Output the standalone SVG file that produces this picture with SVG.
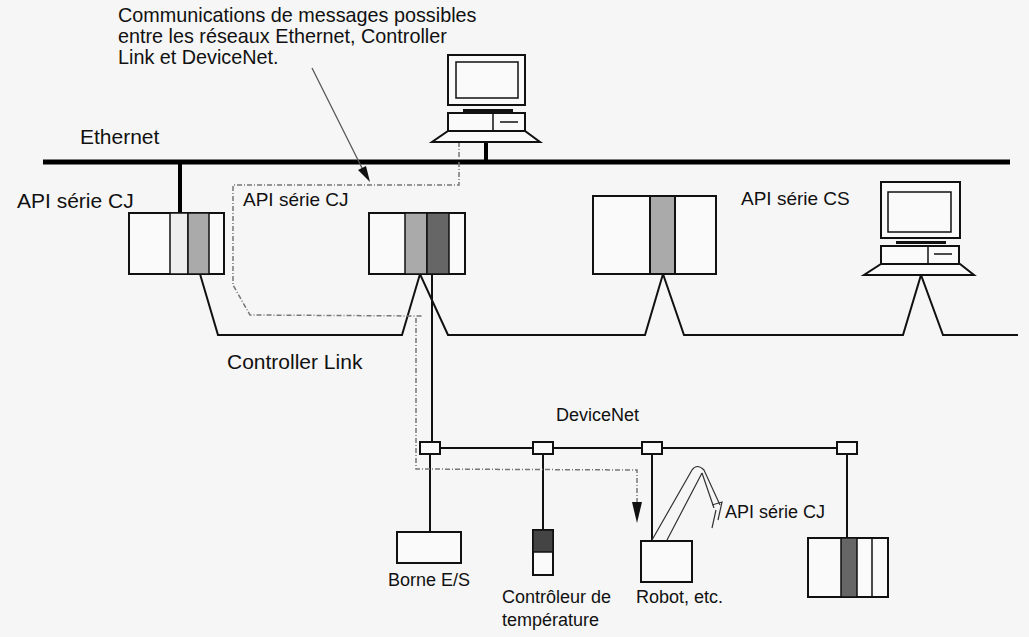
<svg xmlns="http://www.w3.org/2000/svg" width="1029" height="637" viewBox="0 0 1029 637">
<style>
text{font-family:"Liberation Sans",Arial,sans-serif;fill:#111}
.b{fill:none;stroke:#111;stroke-width:2}
.box{fill:#fafafa;stroke:#111;stroke-width:2}
.d{fill:none;stroke:#777;stroke-width:1.5;stroke-dasharray:5,2,1,2}
.t{font-size:19.8px}
.L{font-size:21px}
.s{font-size:19px}
.m{font-size:18px}
</style>
<rect width="1029" height="637" fill="#f6f6f6"/>
<g id="labels">
<text class="t" x="118" y="22">Communications de messages possibles</text>
<text class="t" x="118" y="43">entre les réseaux Ethernet, Controller</text>
<text class="t" x="118" y="64">Link et DeviceNet.</text>
<text class="L" x="80" y="144">Ethernet</text>
<text class="L" x="17" y="208">API série CJ</text>
<text class="s" x="243" y="206">API série CJ</text>
<text class="s" x="741" y="205">API série CS</text>
<text class="L" x="227" y="369">Controller Link</text>
<text class="m" x="556" y="421">DeviceNet</text>
<text class="m" x="725" y="518">API série CJ</text>
<text class="m" x="388" y="586">Borne E/S</text>
<text class="m" x="502" y="603">Contrôleur de</text>
<text class="m" x="502" y="626">température</text>
<text class="m" x="636" y="603">Robot, etc.</text>
</g>
<g id="connectors">
<line x1="43" y1="162" x2="1010" y2="162" stroke="#000" stroke-width="5"/>
<line x1="180" y1="162" x2="180" y2="213" stroke="#000" stroke-width="4"/>
<line x1="486" y1="142" x2="486" y2="162" stroke="#000" stroke-width="4"/>
<polyline class="b" points="200,274 218,335 402,335 420,274 448,335 645,335 663,274 684,335 903,335 921,275 943,335 1018,335"/>
<line class="b" x1="432" y1="274" x2="432" y2="448"/>
<line class="b" x1="430" y1="448" x2="847" y2="448"/>
<line class="b" x1="430" y1="448" x2="430" y2="532"/>
<line class="b" x1="543" y1="448" x2="543" y2="530"/>
<line class="b" x1="652" y1="448" x2="652" y2="541"/>
<line class="b" x1="847" y1="448" x2="847" y2="538"/>
<polyline class="d" points="459,142 459,185 233,185 233,285 250,315 423,316"/>
<polyline class="d" points="416,318 416,469 637,470 637,505"/>
<polygon points="632,502 642,502 637,523" fill="#111"/>
<line x1="312" y1="68" x2="364" y2="172" stroke="#555" stroke-width="1.2"/>
<polygon points="358,170 366,166 370,182" fill="#111"/>
</g>
<g id="pc-top">
<rect x="448" y="55" width="77" height="50" class="box" stroke-width="1.5"/>
<rect x="456" y="62" width="62" height="36" fill="none" stroke="#111" stroke-width="1.5"/>
<rect x="463" y="109" width="50" height="3" fill="#111"/>
<rect x="448" y="113" width="77" height="18" class="box" stroke-width="1.5"/>
<line x1="493" y1="113" x2="493" y2="131" stroke="#111" stroke-width="1.5"/>
<line x1="500" y1="122" x2="518" y2="122" stroke="#111" stroke-width="1.5"/>
<polygon points="448,131 525,131 540,142 432,142" class="box" stroke-width="1.5"/>
</g>
<g id="plc-cj1">
<rect x="129" y="213" width="95" height="61" class="box"/>
<rect x="170" y="213" width="18" height="61" fill="#eee" stroke="#111" stroke-width="1.5"/>
<rect x="188" y="213" width="21" height="61" fill="#aaa" stroke="#111" stroke-width="1.5"/>
</g>
<g id="plc-cj2">
<rect x="369" y="213" width="96" height="61" class="box"/>
<rect x="405" y="213" width="22" height="61" fill="#aaa" stroke="#111" stroke-width="1.5"/>
<rect x="427" y="213" width="22" height="61" fill="#666" stroke="#111" stroke-width="1.5"/>
</g>
<g id="plc-cs">
<rect x="593" y="196" width="123" height="78" class="box"/>
<rect x="650" y="196" width="25" height="78" fill="#aaa" stroke="#111" stroke-width="2"/>
</g>
<g id="pc-right">
<rect x="881" y="182" width="79" height="56" class="box" stroke-width="1.5"/>
<rect x="888" y="192" width="63" height="40" fill="none" stroke="#111" stroke-width="1.5"/>
<rect x="896" y="241" width="50" height="3" fill="#111"/>
<rect x="881" y="246" width="78" height="18" class="box" stroke-width="1.5"/>
<line x1="928" y1="246" x2="928" y2="264" stroke="#111" stroke-width="1.5"/>
<line x1="934" y1="254" x2="952" y2="254" stroke="#111" stroke-width="1.5"/>
<polygon points="881,264 960,264 974,275 864,275" class="box" stroke-width="1.5"/>
</g>
<g id="taps">
<rect x="420" y="442" width="20" height="12" class="box" stroke-width="1.5"/>
<rect x="533" y="442" width="20" height="12" class="box" stroke-width="1.5"/>
<rect x="642" y="442" width="20" height="12" class="box" stroke-width="1.5"/>
<rect x="837" y="442" width="20" height="12" class="box" stroke-width="1.5"/>
</g>
<g id="borne"><rect x="397" y="532" width="64" height="31" class="box" stroke-width="1.5"/></g>
<g id="temp">
<rect x="533" y="530" width="20" height="45" class="box" stroke-width="1.5"/>
<rect x="533" y="530" width="20" height="22" fill="#444" stroke="#111" stroke-width="1.5"/>
</g>
<g id="robot" fill="none" stroke="#333" stroke-width="1.2">
<rect x="641" y="541" width="51" height="41" class="box" stroke-width="1.5"/>
<path d="M652,540 L692,470 M667,540 L702,473 M692,470 Q697,463 704,470 L720,505 M702,473 L714,508"/>
<path d="M712,505 L722,502 L718,520 M716,510 L712,528"/>
</g>
<g id="plc-cj3">
<rect x="808" y="538" width="80" height="59" class="box"/>
<rect x="841" y="538" width="16" height="59" fill="#666" stroke="#111" stroke-width="1.5"/>
<line x1="872" y1="538" x2="872" y2="597" stroke="#111" stroke-width="1.5"/>
</g>
</svg>
